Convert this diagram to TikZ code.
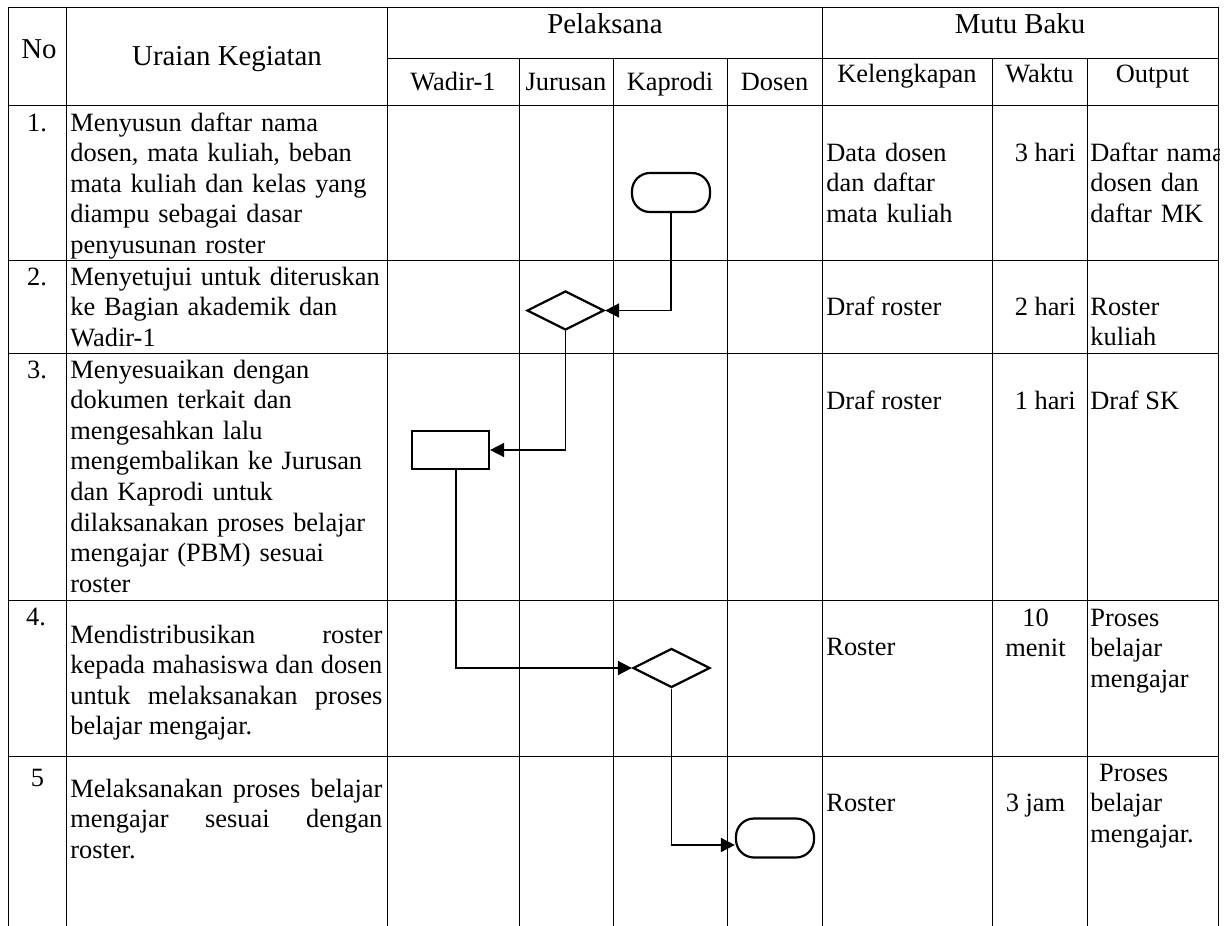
\documentclass[tikz,border=0pt]{standalone}
\usepackage{fontspec}
\setmainfont{Liberation Serif}
\usepackage{tikz}
\usetikzlibrary{arrows.meta,shapes.geometric}

\begin{document}
\begin{tikzpicture}[x=0.5pt, y=-0.5pt,
		tbl/.style={line width=0.5pt},
		terminal/.style={draw, line width=1.1pt, rectangle, rounded corners=9pt, minimum width=39pt, minimum height=19.5pt, inner sep=0pt},
		decision/.style={draw, line width=1.1pt, diamond, minimum width=38.5pt, minimum height=19.5pt, inner sep=0pt},
		process/.style={draw, line width=1.1pt, rectangle, minimum width=38.5pt, minimum height=19pt, inner sep=0pt},
		flow/.style={line width=0.8pt, -{Triangle[length=7pt,width=7pt]}},
		hdr/.style={anchor=base, inner sep=0pt, font=\fontsize{14.4}{16.6}\selectfont},
		subhdr/.style={anchor=base, inner sep=0pt, font=\fontsize{13.2}{15.3}\selectfont},
		txt/.style={anchor=base west, inner sep=0pt, align=left, font=\fontsize{13.2}{15.3}\selectfont},
		jtxt/.style={txt, text width=156pt, align=justify}]
				\fill[white] (0,0) rectangle (1232,926);
				\useasboundingbox (0,0) rectangle (1232,926);
				\draw[tbl] (8,7) -- (1218,7);
				\draw[tbl] (387,58) -- (1218,58);
				\draw[tbl] (8,105) -- (1218,105);
				\draw[tbl] (8,260) -- (1218,260);
				\draw[tbl] (8,353) -- (1218,353);
				\draw[tbl] (8,600) -- (1218,600);
				\draw[tbl] (8,756) -- (1218,756);
				\draw[tbl] (8,7) -- (8,926);
				\draw[tbl] (66,7) -- (66,926);
				\draw[tbl] (387,7) -- (387,926);
				\draw[tbl] (519,58) -- (519,926);
				\draw[tbl] (613,58) -- (613,926);
				\draw[tbl] (727,58) -- (727,926);
				\draw[tbl] (822,7) -- (822,926);
				\draw[tbl] (992,58) -- (992,926);
				\draw[tbl] (1087,58) -- (1087,926);
				\draw[tbl] (1218,7) -- (1218,926);
				\node[hdr] (no) at (39,58) {No};
				\node[hdr] (uraian) at (227,65) {Uraian Kegiatan};
				\node[hdr] (pelaksana) at (605,33) {Pelaksana};
				\node[hdr] (mutu) at (1020,33) {Mutu Baku};
				\node[subhdr] (wadir) at (453,90) {Wadir-1};
				\node[subhdr] (jurusan) at (566,90) {Jurusan};
				\node[subhdr] (kaprodi) at (670,90) {Kaprodi};
				\node[subhdr] (dosen) at (774.5,90) {Dosen};
				\node[subhdr] (kelengkapan) at (907,83) {Kelengkapan};
				\node[subhdr] (waktu) at (1039.5,83) {Waktu};
				\node[subhdr] (output) at (1152.5,83) {Output};
				\node[subhdr] (n1) at (37,131) {1.};
				\node[subhdr] (n2) at (37,285) {2.};
				\node[subhdr] (n3) at (37,378) {3.};
				\node[subhdr] (n4) at (36,625) {4.};
				\node[subhdr] (n5) at (37.5,786) {5};
				\node[txt, text width=156pt] (u1) at (70,131) {Menyusun daftar nama\\dosen, mata kuliah, beban\\mata kuliah dan kelas yang\\diampu sebagai dasar\\penyusunan roster};
				\node[txt, text width=156pt] (u2) at (70,285) {Menyetujui untuk diteruskan\\ke Bagian akademik dan\\Wadir-1};
				\node[txt, text width=156pt] (u3) at (70,378) {Menyesuaikan dengan\\dokumen terkait dan\\mengesahkan lalu\\mengembalikan ke Jurusan\\dan Kaprodi untuk\\dilaksanakan proses belajar\\mengajar (PBM) sesuai\\roster};
				\node[jtxt] (u4) at (70,643) {Mendistribusikan roster\linebreak kepada mahasiswa dan dosen\linebreak untuk melaksanakan proses\linebreak belajar mengajar.};
				\node[jtxt] (u5) at (70,797) {Melaksanakan proses belajar\linebreak mengajar sesuai dengan\linebreak roster.};
				\node[txt, text width=80pt] (k1) at (826,161) {Data dosen\\dan daftar\\mata kuliah};
				\node[txt] (k2) at (826,315) {Draf roster};
				\node[txt] (k3) at (826,409) {Draf roster};
				\node[txt] (k4) at (826,655) {Roster};
				\node[txt] (k5) at (826,811) {Roster};
				\node[subhdr, anchor=base east] (w1) at (1076,161) {3 hari};
				\node[subhdr, anchor=base east] (w2) at (1076,315) {2 hari};
				\node[subhdr, anchor=base east] (w3) at (1076,409) {1 hari};
				\node[subhdr, text width=40pt, align=center] (w4) at (1035.5,626) {10\\menit};
				\node[subhdr] (w5) at (1035.5,811) {3 jam};
				\begin{scope}
					\clip (1087,0) rectangle (1219,926);
					\node[txt, text width=75pt] (o1) at (1090,161) {Daftar nama\\dosen dan\\daftar MK};
					\node[txt, text width=75pt] (o2) at (1090,315) {Roster\\kuliah};
					\node[txt] (o3) at (1090,409) {Draf SK};
					\node[txt, text width=75pt] (o4) at (1090,626) {Proses\\belajar\\mengajar};
					\node[txt, text width=75pt] (o5) at (1090,781) {~Proses\\belajar\\mengajar.};
				\end{scope}
				\node[terminal] (mulai) at (671,192.5) {};
				\node[decision] (setuju) at (565.5,310.5) {};
				\node[process] (sahkan) at (450.5,450) {};
				\node[decision] (distribusi) at (671.5,668) {};
				\node[terminal] (selesai) at (775,838) {};
				\draw[flow] (mulai.south) |- (setuju.east);
				\draw[flow] (setuju.south) |- (sahkan.east);
				\draw[flow] ([xshift=2.75pt]sahkan.south) |- (distribusi.west);
				\draw[flow] (distribusi.south) |- ([yshift=-3.5pt]selesai.west);
			\end{tikzpicture}
\end{document}
